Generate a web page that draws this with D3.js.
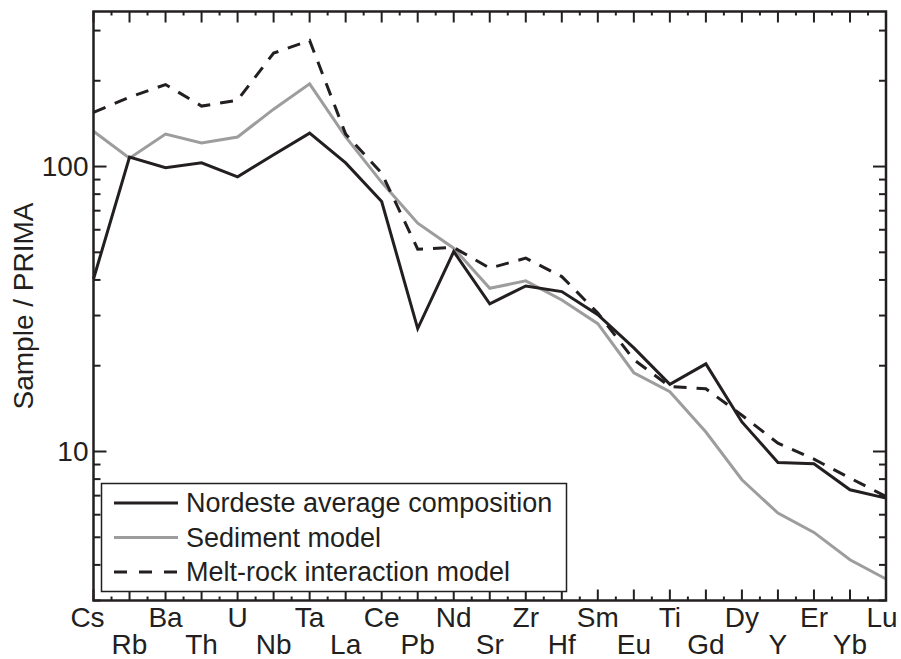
<!DOCTYPE html>
<html>
<head>
<meta charset="utf-8">
<script src="https://cdn.jsdelivr.net/npm/d3@7"></script>
<style>
  body { margin: 0; background: #fff; }
  text { font-family: "Liberation Sans", Arial, sans-serif; fill: #231f20; }
</style>
</head>
<body>
<div id="chart"></div>
<script>
// Trace element pattern, normalised to PRIMA
const elements = ['Cs', 'Rb', 'Ba', 'Th', 'U', 'Nb', 'Ta', 'La', 'Ce', 'Pb', 'Nd', 'Sr',
    'Zr', 'Hf', 'Sm', 'Eu', 'Ti', 'Gd', 'Dy', 'Y', 'Er', 'Yb', 'Lu'];

const nordeste = [40.3, 108, 99, 103, 92, 110, 131, 103, 75.4, 27, 50.3, 33,
    38.1, 36.4, 30.2, 23.1, 17.2, 20.3, 12.7, 9.15, 9.06, 7.34, 6.86];
const sediment = [133, 107, 130, 121, 127, 159, 195, 127, 88, 63.3, 51.7, 37.4,
    39.7, 34, 28.1, 18.9, 16.2, 11.7, 7.96, 6.08, 5.2, 4.17, 3.57];
const meltRock = [155, 175, 194, 163, 171, 250, 277, 130, 94.8, 51.3, 52, 44,
    47.7, 41.1, 30.6, 21, 16.9, 16.6, 13.4, 10.7, 9.4, 8.07, 6.95];

const yMajorTicks = [10, 100];
const yMinorTicks = [3, 4, 5, 6, 7, 8, 9, 20, 30, 40, 50, 60, 70, 80, 90, 200, 300];
const legendLabels = ['Nordeste average composition', 'Sediment model', 'Melt-rock interaction model'];

const width = 901, height = 659;
const margin = { top: 11.5, right: 15, bottom: 58.5, left: 93.5 };
const ink = '#231f20';

const svg = d3.select('#chart').append('svg')
    .attr('width', width)
    .attr('height', height);

const x = d3.scalePoint()
    .domain(elements)
    .range([margin.left, width - margin.right]);

const y = d3.scaleLog()
    .domain([3, 350])
    .range([height - margin.bottom, margin.top]);

const x0 = margin.left, x1 = width - margin.right;
const y0 = height - margin.bottom, y1 = margin.top;
const step = x.step();

// tick marks, all pointing inward
const ticks = svg.append('g')
    .attr('stroke', ink)
    .attr('stroke-width', 2);

// x major ticks at every element, minor halfway
elements.forEach(e => {
    const px = x(e);
    ticks.append('line').attr('x1', px).attr('x2', px).attr('y1', y0).attr('y2', y0 - 11);
    ticks.append('line').attr('x1', px).attr('x2', px).attr('y1', y1).attr('y2', y1 + 11);
});
d3.range(elements.length - 1).forEach(i => {
    const px = x(elements[i]) + step / 2;
    ticks.append('line').attr('x1', px).attr('x2', px).attr('y1', y0).attr('y2', y0 - 4);
    ticks.append('line').attr('x1', px).attr('x2', px).attr('y1', y1).attr('y2', y1 + 4);
});

yMajorTicks.forEach(v => {
    ticks.append('line').attr('x1', x0).attr('x2', x0 + 13).attr('y1', y(v)).attr('y2', y(v));
    ticks.append('line').attr('x1', x1).attr('x2', x1 - 13).attr('y1', y(v)).attr('y2', y(v));
});
yMinorTicks.forEach(v => {
    ticks.append('line').attr('x1', x0).attr('x2', x0 + 7).attr('y1', y(v)).attr('y2', y(v));
    ticks.append('line').attr('x1', x1).attr('x2', x1 - 7).attr('y1', y(v)).attr('y2', y(v));
});

// y tick labels
svg.append('g').selectAll('text')
    .data(yMajorTicks)
    .enter()
    .append('text')
    .attr('x', x0 - 5)
    .attr('y', d => y(d))
    .attr('dy', '0.35em')
    .attr('text-anchor', 'end')
    .style('font-size', '28px')
    .text(d => d);

// x labels, staggered up/down
svg.append('g').selectAll('text')
    .data(elements)
    .enter()
    .append('text')
    .attr('x', (d, i) => x(d) + (i === 0 ? -6 : i === elements.length - 1 ? -4 : 0))
    .attr('y', (d, i) => i % 2 === 0 ? 627 : 654)
    .attr('text-anchor', 'middle')
    .style('font-size', '28px')
    .text(d => d);

// y axis title
svg.append('text')
    .attr('transform', `translate(33, ${(y0 + y1) / 2}) rotate(-90)`)
    .attr('text-anchor', 'middle')
    .style('font-size', '28px')
    .text('Sample / PRIMA');

// series
const line = d3.line()
    .x((d, i) => x(elements[i]))
    .y(d => y(d));

const series = [
    { values: sediment, color: '#9d9d9d', dash: null },
    { values: meltRock, color: ink, dash: '13,10' },
    { values: nordeste, color: ink, dash: null }
];

const plot = svg.append('g');
plot.selectAll('path')
    .data(series)
    .enter()
    .append('path')
    .attr('d', d => line(d.values))
    .attr('fill', 'none')
    .attr('stroke', d => d.color)
    .attr('stroke-width', 3)
    .attr('stroke-linejoin', 'miter')
    .attr('stroke-dasharray', d => d.dash);

// legend
const legend = svg.append('g');
legend.append('rect')
    .attr('x', 101.5)
    .attr('y', 483.5)
    .attr('width', 465)
    .attr('height', 108)
    .attr('fill', '#fff')
    .attr('stroke', ink)
    .attr('stroke-width', 1.5);

const legendStyles = [
    { color: ink, dash: null },
    { color: '#9d9d9d', dash: null },
    { color: ink, dash: '13,12' }
];

legendLabels.forEach((label, i) => {
    const ly = 503 + i * 34.5;
    legend.append('line')
        .attr('x1', 114).attr('x2', 178)
        .attr('y1', ly).attr('y2', ly)
        .attr('stroke', legendStyles[i].color)
        .attr('stroke-width', 3)
        .attr('stroke-dasharray', legendStyles[i].dash);
    legend.append('text')
        .attr('x', 186)
        .attr('y', ly)
        .attr('dy', '0.35em')
        .style('font-size', '27px')
        .text(label);
});

// frame
svg.append('rect')
    .attr('x', x0)
    .attr('y', y1)
    .attr('width', x1 - x0)
    .attr('height', y0 - y1)
    .attr('fill', 'none')
    .attr('stroke', ink)
    .attr('stroke-width', 2.5);
</script>
</body>
</html>
